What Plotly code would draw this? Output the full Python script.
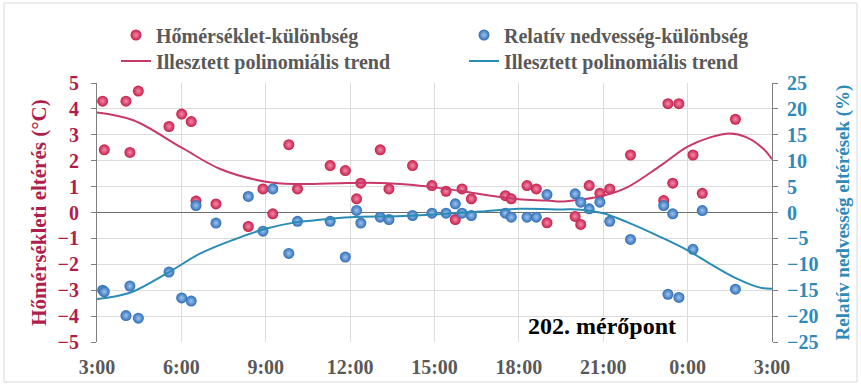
import plotly.graph_objects as go

# ---- data (hours since 0:00; values past 24 are the next day) ----
hours = [3.2, 3.26, 4.03, 4.17, 4.47, 5.56, 6.01, 6.35, 6.52, 7.23, 8.38, 8.9, 9.25, 9.82, 10.13,
         11.29, 11.83, 12.23, 12.38, 13.07, 13.38, 14.22, 14.91, 15.41, 15.74, 15.98, 16.31,
         17.52, 17.73, 18.29, 18.62, 19.0, 20.0, 20.2, 20.5, 20.88, 21.23, 21.97,
         23.15, 23.3, 23.47, 23.69, 24.19, 24.52, 25.7]
temp_diff = [4.3, 2.42, 4.3, 2.32, 4.69, 3.32, 3.8, 3.51, 0.44, 0.33, -0.54, 0.91, -0.05, 2.62, 0.91,
             1.81, 1.62, 0.53, 1.13, 2.42, 0.91, 1.81, 1.04, 0.82, -0.27, 0.91, 0.53,
             0.65, 0.53, 1.04, 0.91, -0.4, -0.15, -0.46, 1.04, 0.74, 0.91, 2.22,
             0.46, 4.2, 1.13, 4.2, 2.22, 0.74, 3.6]
hum_diff = [-15.0, -15.3, -19.9, -14.2, -20.4, -11.5, -16.5, -17.1, 1.35, -2.05, 3.1, -3.6, 4.55, -7.9, -1.7,
            -1.7, -8.6, 0.4, -2.05, -0.9, -1.35, -0.58, -0.13, -0.13, 1.67, -0.13, -0.58,
            -0.13, -0.9, -0.9, -0.9, 3.46, 3.6, 2.0, 0.7, 2.0, -1.7, -5.2,
            1.35, -15.8, -0.26, -16.4, -7.1, 0.38, -14.8]

# fitted polynomial trends
trend_t_x = [3.0, 4.29, 6.0, 7.38, 9.0, 10.1, 11.9, 13.07, 14.25, 15.0, 16.0, 17.2, 18.0, 19.0, 19.5,
             20.2, 21.0, 21.85, 23.04, 24.0, 24.8, 25.5, 26.1, 26.7, 27.0]
trend_t_y = [3.86, 3.56, 2.51, 1.68, 1.19, 1.1, 1.14, 1.14, 1.06, 0.97, 0.82, 0.62, 0.51, 0.46, 0.42,
             0.5, 0.65, 0.97, 1.81, 2.54, 2.9, 3.05, 2.9, 2.45, 2.06]
trend_h_x = [3.0, 4.17, 5.56, 6.66, 7.85, 9.0, 10.1, 10.7, 12.0, 13.67, 15.0, 16.63, 18.0, 19.5,
             20.2, 21.0, 21.85, 23.04, 24.0, 24.8, 25.75, 26.58, 27.0]
trend_h_y = [-16.7, -15.5, -11.5, -7.95, -5.26, -3.14, -1.86, -1.54, -0.9, -0.7, -0.38, 0.19, 0.7, 0.6,
             0.55, -0.13, -1.86, -4.74, -7.3, -9.9, -12.76, -14.5, -14.7]

x_ticks = [3, 6, 9, 12, 15, 18, 21, 24, 27]
x_labels = ["3:00", "6:00", "9:00", "12:00", "15:00", "18:00", "21:00", "0:00", "3:00"]

RED = "#C41E4A"
BLUE = "#2F6DB5"
RED_LINE = "#C8386A"
BLUE_LINE = "#2A8BB5"
LEFT_COL = "#B01F4C"
RIGHT_COL = "#2E8AB8"
GRAY_TXT = "#595959"
SERIF = "Liberation Serif"

fig = go.Figure()

fig.add_trace(go.Scatter(
    x=hours, y=temp_diff, mode="markers", name="Hőmérséklet-különbség",
    marker=dict(size=11, color=RED, gradient=dict(type="radial", color="#F58AA8")),
    legend="legend", yaxis="y"))
fig.add_trace(go.Scatter(
    x=trend_t_x, y=trend_t_y, mode="lines", name="Illesztett polinomiális trend",
    line=dict(color=RED_LINE, width=2, shape="spline", smoothing=1.0),
    legend="legend2", yaxis="y"))
fig.add_trace(go.Scatter(
    x=hours, y=hum_diff, mode="markers", name="Relatív nedvesség-különbség",
    marker=dict(size=11, color=BLUE, gradient=dict(type="radial", color="#9CC4F0")),
    legend="legend3", yaxis="y2"))
fig.add_trace(go.Scatter(
    x=trend_h_x, y=trend_h_y, mode="lines", name="Illesztett polinomiális trend",
    line=dict(color=BLUE_LINE, width=2, shape="spline", smoothing=1.0),
    legend="legend4", yaxis="y2"))

L, R, T, B = 97, 89, 83, 43
W, H = 861, 385
pw, ph = W - L - R, H - T - B

def px_x(p):
    return (p - L) / pw

def px_y(p):
    return (H - B - p) / ph

legend_font = dict(family=SERIF, size=20, color=GRAY_TXT, weight="bold")

def leg(xp, yp):
    return dict(x=px_x(xp), y=px_y(yp), xanchor="left", yanchor="middle",
                font=legend_font, bgcolor="rgba(0,0,0,0)", itemwidth=30)

fig.update_layout(
    width=W, height=H,
    margin=dict(l=L, r=R, t=T, b=B, autoexpand=False),
    paper_bgcolor="white", plot_bgcolor="white",
    showlegend=True,
    legend=leg(116, 35),
    legend2=leg(116, 61),
    legend3=leg(464, 35),
    legend4=leg(464, 61),
    xaxis=dict(range=[3, 27], tickvals=x_ticks, ticktext=x_labels,
               showgrid=True, gridcolor="#DCDCDC", gridwidth=1,
               zeroline=False, showline=False, ticks="", ticklabelstandoff=11,
               automargin=False,
               tickfont=dict(family=SERIF, size=20, color=GRAY_TXT, weight="bold")),
    yaxis=dict(range=[-5, 5], dtick=1, showgrid=True, gridcolor="#DCDCDC",
               zeroline=True, zerolinecolor="#6E6E6E", zerolinewidth=1,
               showline=True, linecolor="#7F7F7F", linewidth=1,
               ticks="outside", ticklen=5, tickcolor="#7F7F7F", ticklabelstandoff=8,
               automargin=False,
               tickfont=dict(family=SERIF, size=20, color=LEFT_COL, weight="bold"),
               title=dict(text="Hőmérsékleti eltérés (°C)", standoff=5,
                          font=dict(family=SERIF, size=21, color=LEFT_COL, weight="bold"))),
    yaxis2=dict(range=[-25, 25], dtick=5, overlaying="y", side="right",
                showgrid=False, zeroline=False,
                showline=True, linecolor="#7F7F7F", linewidth=1,
                ticks="outside", ticklen=5, tickcolor="#7F7F7F", ticklabelstandoff=5,
                automargin=False,
                tickfont=dict(family=SERIF, size=20, color=RIGHT_COL, weight="bold"),
                title=dict(text="Relatív nedvesség eltérések (%)", standoff=18,
                           font=dict(family=SERIF, size=19, color=RIGHT_COL, weight="bold"))),
    annotations=[dict(text="202. mérőpont", xref="paper", yref="paper",
                      x=px_x(602), y=px_y(326), xanchor="center", yanchor="middle",
                      showarrow=False,
                      font=dict(family=SERIF, size=24, color="black", weight="bold"))],
    shapes=[dict(type="rect", xref="paper", yref="paper",
                 x0=px_x(4), x1=px_x(857), y0=px_y(382), y1=px_y(3),
                 line=dict(color="#D9D9D9", width=1), layer="below")],
)

fig.write_html("out.html", config={"displayModeBar": False},
               post_script="document.body.style.margin='0px';")
